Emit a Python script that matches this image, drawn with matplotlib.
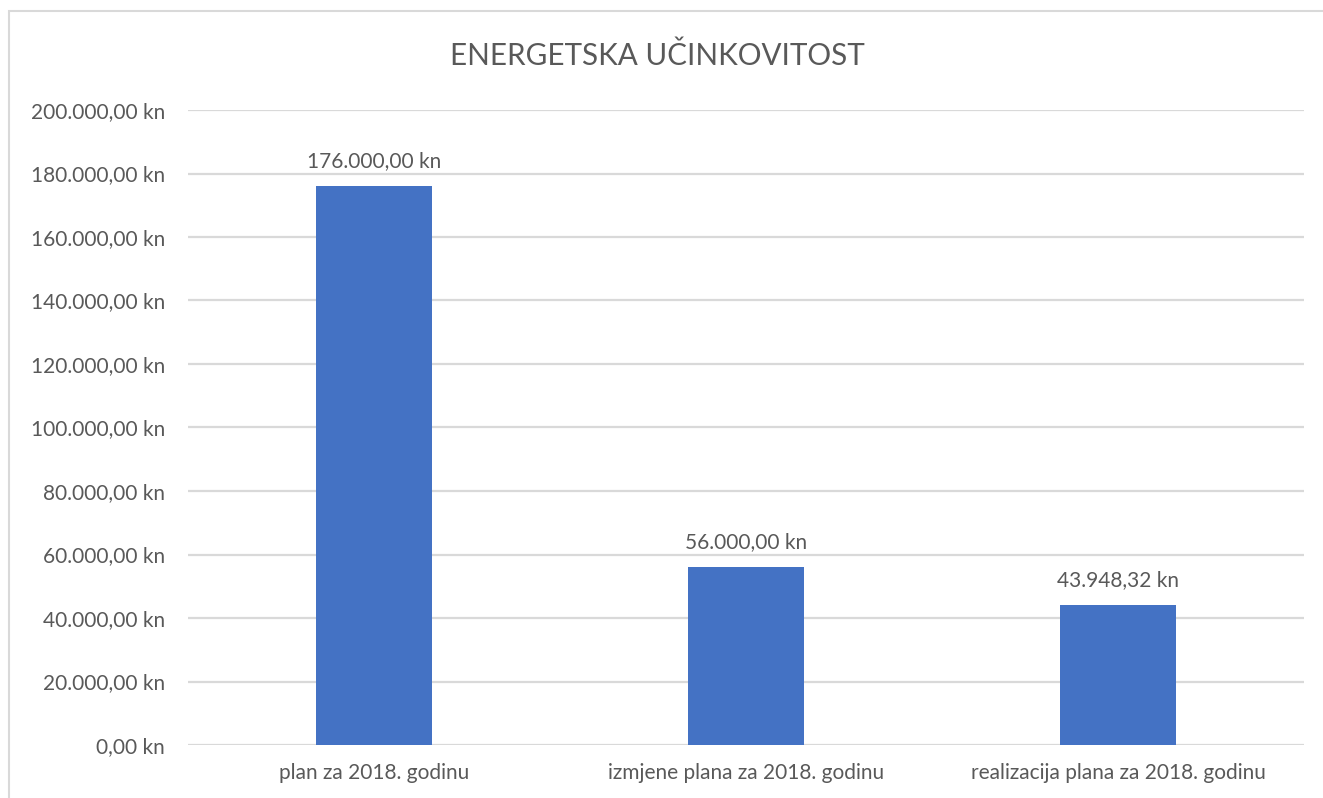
import matplotlib
matplotlib.use("Agg")
import matplotlib.pyplot as plt
from matplotlib.ticker import FuncFormatter, MultipleLocator
from matplotlib.patches import Rectangle

categories = ["plan za 2018. godinu", "izmjene plana za 2018. godinu", "realizacija plana za 2018. godinu"]
values = [176000.00, 56000.00, 43948.32]
title = "ENERGETSKA UČINKOVITOST"

plt.rcParams['font.family'] = ['Lato', 'DejaVu Sans']
TXT = "#595959"

def fmt_kn(v):
    s = f"{v:,.2f}"
    s = s.replace(",", "X").replace(".", ",").replace("X", ".")
    return s + " kn"

W, H = 1323, 798
fig = plt.figure(figsize=(W / 100, H / 100), dpi=100)
ax = fig.add_axes([188 / W, 1 - 745 / H, (1304 - 188) / W, (745 - 110) / H])

x = list(range(len(categories)))
bars = ax.bar(x, values, width=0.312, color="#4472C4", zorder=3)
ax.set_xlim(-0.5, len(categories) - 0.5)
ax.set_ylim(0, 200000)
ax.yaxis.set_major_locator(MultipleLocator(20000))
ax.yaxis.set_major_formatter(FuncFormatter(lambda v, p: fmt_kn(v)))
ax.grid(axis="y", color="#d9d9d9", linewidth=1.6, zorder=0)
for s in ax.spines.values():
    s.set_visible(False)
ax.tick_params(axis="both", length=0, colors=TXT, labelsize=15)
ax.tick_params(axis="y", pad=16.5)
ax.tick_params(axis="x", pad=13)
ax.set_xticks(x)
ax.set_xticklabels(categories)

for xi, v in zip(x, values):
    ax.annotate(fmt_kn(v), (xi, v), xytext=(0, 11), textcoords="offset points",
                ha="center", va="bottom", color=TXT, fontsize=15)

fig.text(657 / W, 1 - 56 / H, title, ha="center", va="center", color=TXT, fontsize=21.3)

fig.patches.append(Rectangle((9 / W, -0.05), 1.2, 1 - 11 / H + 0.05, transform=fig.transFigure,
                             fill=False, edgecolor="#d9d9d9", linewidth=1.5))

fig.savefig("out.png", dpi=100, facecolor="white")
